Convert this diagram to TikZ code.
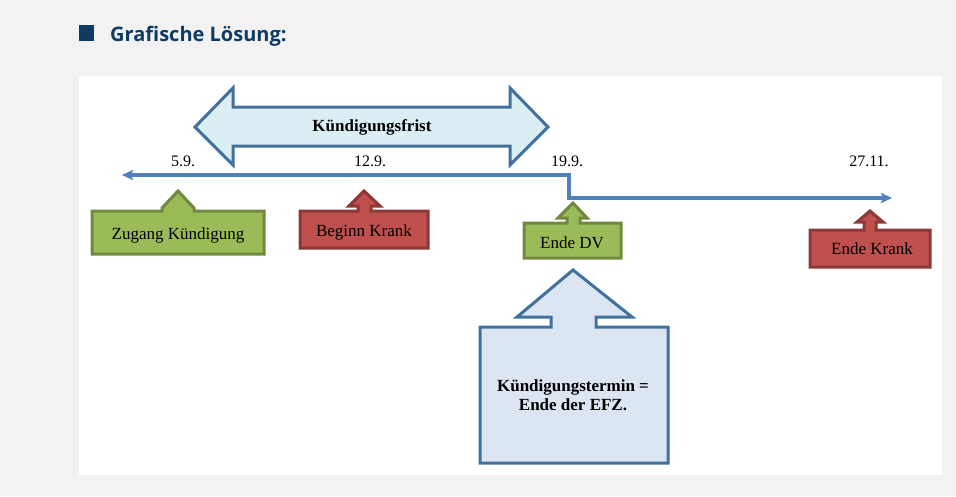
\documentclass[tikz,border=0pt]{standalone}
\usepackage{fontspec}
\setmainfont{Liberation Serif}
\newfontfamily\kopffont{Open Sans}
\usepackage{tikz}
\usetikzlibrary{arrows.meta, positioning}
\definecolor{grundGrau}{RGB}{242, 242, 242}
\definecolor{kopfBlau}{RGB}{14, 58, 99}
\definecolor{randBlau}{RGB}{65, 113, 156}
\definecolor{linieBlau}{RGB}{79, 129, 189}
\definecolor{fristBlau}{RGB}{219, 238, 244}
\definecolor{terminBlau}{RGB}{220, 230, 242}
\definecolor{gruenFill}{RGB}{155, 187, 89}
\definecolor{gruenRand}{RGB}{113, 137, 63}
\definecolor{rotFill}{RGB}{192, 80, 77}
\definecolor{rotRand}{RGB}{140, 56, 54}

\begin{document}
\begin{tikzpicture}[x=1pt, y=-1pt,
        pfeil/.style={line width=3pt, line join=miter},
        gruen/.style={pfeil, fill=gruenFill, draw=gruenRand},
        rot/.style={pfeil, fill=rotFill, draw=rotRand},
        blau/.style={pfeil, fill=terminBlau, draw=randBlau},
        txt/.style={anchor=base, inner sep=0pt, font=\fontsize{17}{20}\selectfont},
        datum/.style={anchor=base, inner sep=0pt, font=\fontsize{16}{19}\selectfont},
        zeit/.style={line width=3.3pt, draw=linieBlau, {Stealth[length=11pt, width=10pt, inset=2pt]}-{Stealth[length=11pt, width=10pt, inset=2pt]}}]

        % Hintergrund
        \fill[grundGrau] (0,0) rectangle (956,496);
        \fill[white] (79,76) rectangle (942,475);
        \useasboundingbox (0,0) rectangle (956,496);

        % Kopfzeile
        \fill[kopfBlau] (79,25) rectangle (94,41);
        \node[anchor=base west, inner sep=0pt, text=kopfBlau, font=\kopffont\bfseries\fontsize{20}{24}\selectfont] (titel) at (110,41) {Grafische Lösung:};

        % Kündigungsfrist (Doppelpfeil)
        \draw[pfeil, fill=fristBlau, draw=randBlau] (195,127) -- (233,88) -- (233,107) -- (510,107) -- (510,88) -- (548,127)
            -- (510,165) -- (510,146) -- (233,146) -- (233,165) -- cycle;
        \node[txt, font=\bfseries\fontsize{17}{20}\selectfont] (frist) at (372,131) {Kündigungsfrist};

        % Daten
        \node[datum] (d5) at (183,166) {5.9.};
        \node[datum] (d12) at (370,166) {12.9.};
        \node[datum] (d19) at (567,166) {19.9.};
        \node[datum] (d27) at (869,166) {27.11.};

        % Zeitstrahl
        \coordinate (links) at (122,175);
        \coordinate (knick) at (569,175);
        \coordinate (unten) at (569,198);
        \coordinate (rechts) at (892,198);
        \draw[zeit] (links) -- (knick) -- (unten) -- (rechts);

        % Ereignisse
        \draw[gruen] (92,211) -- (162,211) -- (162,208) -- (178,191) -- (194,208) -- (194,211) -- (264,211) -- (264,254) -- (92,254) -- cycle;
        \node[txt] (zugang) at (178,239) {Zugang Kündigung};

        \draw[rot] (300,211) -- (358,211) -- (358,206) -- (349,206) -- (364,191) -- (380,206) -- (371,206) -- (371,211) -- (428,211) -- (428,248) -- (300,248) -- cycle;
        \node[txt] (beginn) at (364,236) {Beginn Krank};

        \draw[gruen] (524,223) -- (567,223) -- (567,218) -- (558,218) -- (573,203) -- (587,218) -- (580,218) -- (580,223) -- (621,223) -- (621,258) -- (524,258) -- cycle;
        \node[txt] (endedv) at (572,248) {Ende DV};

        \draw[rot] (810,230) -- (864,230) -- (864,222) -- (857,222) -- (870,211) -- (883,222) -- (876,222) -- (876,230) -- (930,230) -- (930,267) -- (810,267) -- cycle;
        \node[txt] (endekrank) at (872,254) {Ende Krank};

        % Kündigungstermin
        \draw[blau] (480,327) -- (551,327) -- (551,317) -- (517,317) -- (573,270) -- (632,317) -- (596,317) -- (596,327) -- (668,327) -- (668,463) -- (480,463) -- cycle;
        \node[txt, font=\bfseries\fontsize{17}{20}\selectfont] (termin) at (573,391) {Kündigungstermin =};
        \node[txt, font=\bfseries\fontsize{17}{20}\selectfont] (efz) at (573,410) {Ende der EFZ.};
    \end{tikzpicture}
\end{document}
